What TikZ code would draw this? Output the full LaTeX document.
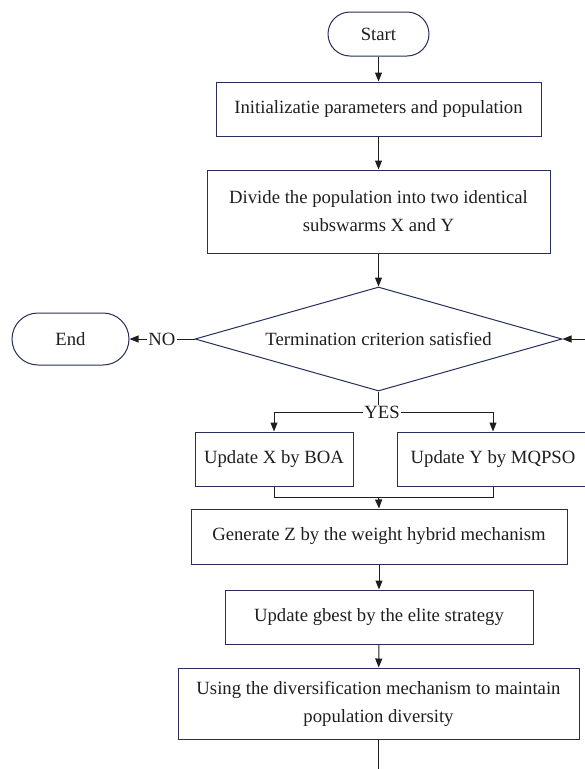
\documentclass[tikz,border=0pt]{standalone}
\usepackage{fontspec}
\setmainfont{Liberation Serif}
\usetikzlibrary{arrows.meta,shapes.geometric}
\definecolor{boxc}{RGB}{38,46,92}
\definecolor{linec}{RGB}{30,30,30}
\definecolor{txtc}{RGB}{30,30,30}
\tikzset{
  base/.style={draw=boxc, line width=1pt, text=txtc, font=\fontsize{18.7}{28}\selectfont, align=center, inner sep=0pt},
  procbox/.style={base, rectangle},
  termbox/.style={base, rectangle},
  decbox/.style={base, diamond, shape aspect=3.5},
  conn/.style={draw=linec, line width=1pt},
  arr/.style={conn, -{Triangle[length=9pt,width=7pt]}},
  lbl/.style={fill=white, text=txtc, font=\fontsize{18.7}{20}\selectfont, inner sep=1pt}
}
\begin{document}
\begin{tikzpicture}[x=1pt,y=-1pt]
\useasboundingbox (0,0) rectangle (585,769);
\clip (0,0) rectangle (585,769);
\node[termbox, minimum width=101pt, minimum height=44pt, rounded corners=22pt] (start) at (378.5,34) {Start};
\node[procbox, minimum width=325pt, minimum height=54pt] (init) at (378.5,109) {Initializatie parameters and population};
\node[procbox, minimum width=343pt, minimum height=83pt] (divide) at (378.5,211.5) {Divide the population into two identical\\subswarms X and Y};
\node[decbox, minimum width=367pt, minimum height=104pt] (dec) at (378.5,339) {Termination criterion satisfied};
\node[termbox, minimum width=117pt, minimum height=52pt, rounded corners=26pt] (end) at (70.5,339) {End};
\node[procbox, minimum width=158pt, minimum height=54pt] (bx) at (274,459) {Update X by BOA};
\node[procbox, minimum width=192pt, minimum height=54pt] (by) at (493,459) {Update Y by MQPSO};
\node[procbox, minimum width=376pt, minimum height=55pt] (bz) at (379,536.5) {Generate Z by the weight hybrid mechanism};
\node[procbox, minimum width=308pt, minimum height=54pt] (gb) at (379,617) {Update gbest by the elite strategy};
\node[procbox, minimum width=401pt, minimum height=71pt] (div) at (378.5,703.5) {Using the diversification mechanism to maintain\\population diversity};
\coordinate (split) at (378.5,412);
\coordinate (merge) at (378.5,497);
\coordinate (loopin) at (600,339);
\coordinate (down) at (378.5,790);

\draw[arr] (start) -- (init);
\draw[arr] (init) -- (divide);
\draw[arr] (divide) -- (dec);
\draw[arr] (dec.west) -- node[lbl] {NO} (end.east);
\draw[conn] (dec.south) -- (split);
\draw[arr] (split) -| (bx.north);
\draw[arr] (split) -| (by.north);
\node[lbl] (yes) at (382,412) {YES};
\draw[conn] (bx.south) |- (merge);
\draw[conn] (by.south) |- (merge);
\draw[arr] (merge) -- (bz.north);
\draw[arr] (bz) -- (gb);
\draw[arr] (gb) -- (div);
\draw[conn] (div.south) -- (down);
\draw[arr] (loopin) -- (dec.east);
\end{tikzpicture}
\end{document}
